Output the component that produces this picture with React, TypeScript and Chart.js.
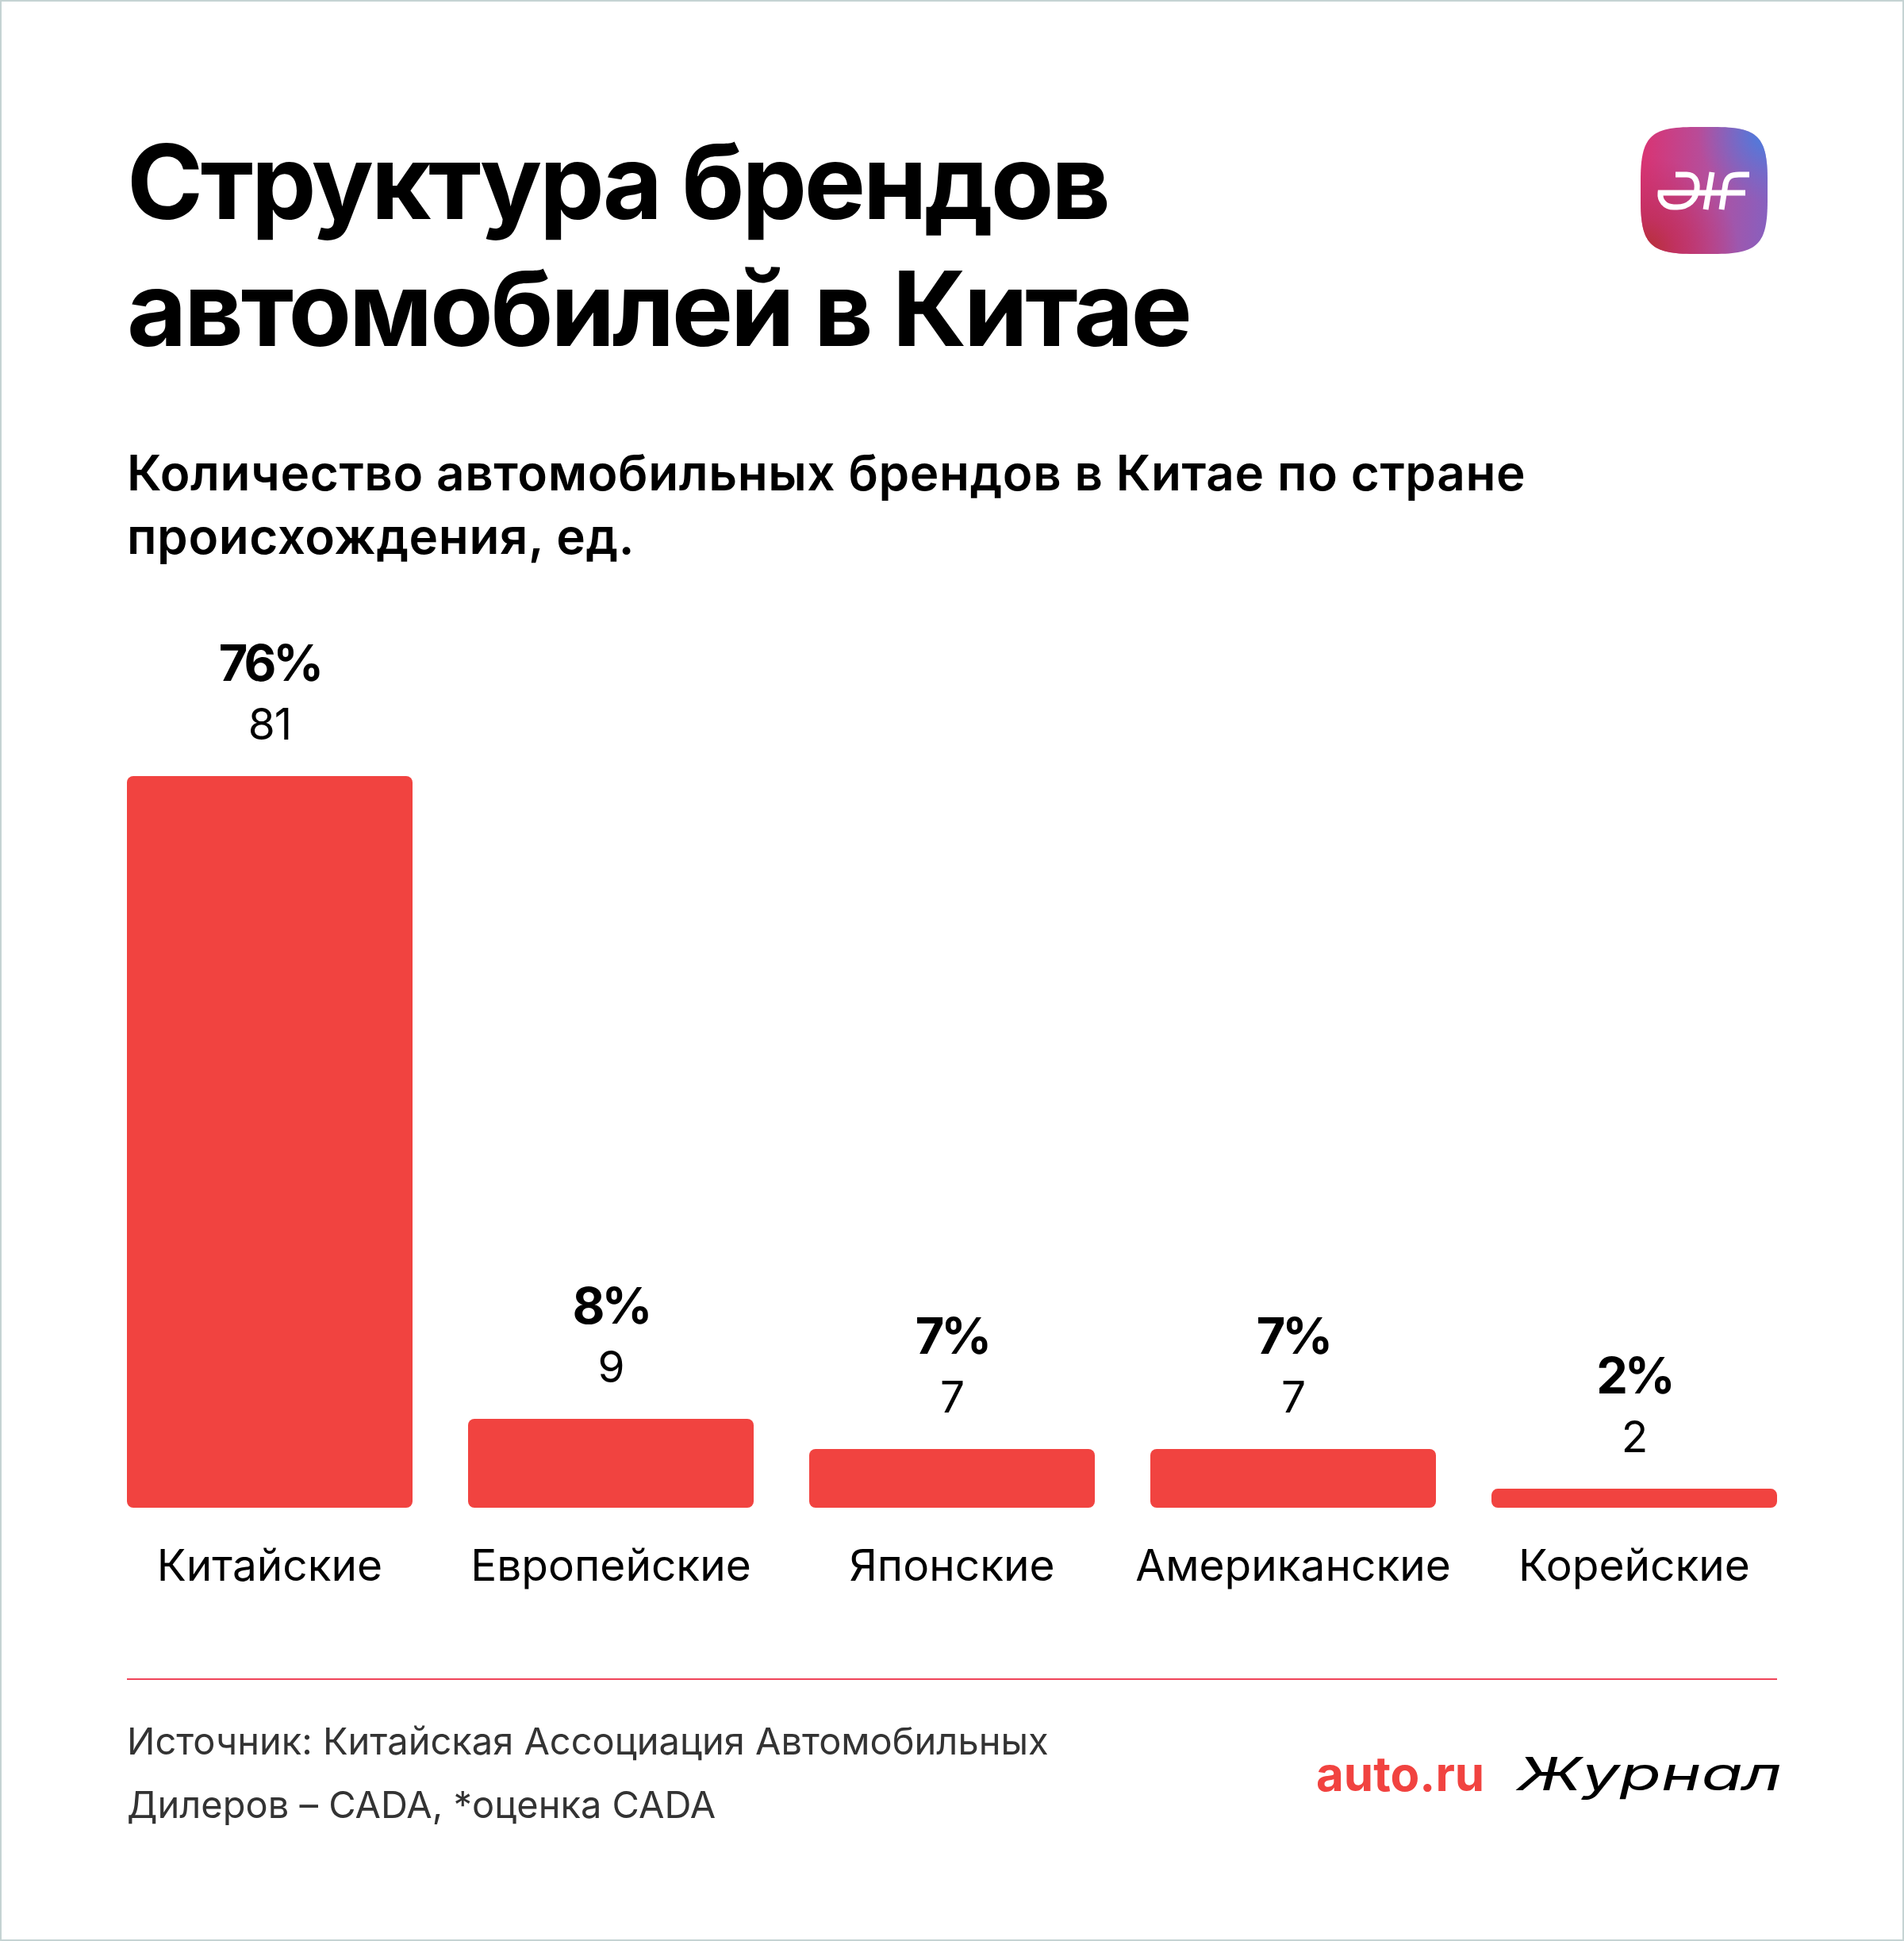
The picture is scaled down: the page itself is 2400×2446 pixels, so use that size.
import React, { useEffect, useRef } from "react";
import Chart from "chart.js/auto";
import type { Plugin } from "chart.js";

const categories = ["Китайские", "Европейские", "Японские", "Американские", "Корейские"];
// bar heights as drawn in the source graphic, which are not quite to scale with the counts
const barHeights = [81, 9.84, 6.5, 6.5, 2.1];
const counts = ["81", "9", "7", "7", "2"];
const shares = ["76%", "8%", "7%", "7%", "2%"];

const FONT = "Inter, 'Noto Sans', sans-serif";
const RED = "#f14340";
const TILE = "M0 68C0 12 12 0 68 0h24c56 0 68 12 68 68v24c0 56-12 68-68 68H68C12 160 0 148 0 92Z";

const stackedLabels: Plugin<"bar"> = {
    id: "stackedLabels",
    afterDatasetsDraw(chart) {
        const ctx = chart.ctx as CanvasRenderingContext2D & { letterSpacing: string };
        const meta = chart.getDatasetMeta(0);
        ctx.save();
        ctx.fillStyle = "#000";
        ctx.textAlign = "center";
        ctx.textBaseline = "alphabetic";
        meta.data.forEach((bar, i) => {
            ctx.font = `700 63px ${FONT}`;
            ctx.letterSpacing = "-4px";
            ctx.fillText(shares[i], bar.x, bar.y - 120);
            ctx.font = `400 55px ${FONT}`;
            ctx.letterSpacing = "-1px";
            ctx.fillText(counts[i], bar.x, bar.y - 46);
        });
        ctx.restore();
    },
};

const textBase: React.CSSProperties = {
    position: "absolute",
    left: 160,
    margin: 0,
    color: "#000",
    fontFamily: FONT,
    whiteSpace: "nowrap",
};

const Logo = () => (
    <svg style={{ position: "absolute", left: 2068, top: 160 }} width={160} height={160} viewBox="0 0 160 160">
        <defs>
            <linearGradient id="base" x1="0" y1="0" x2="1" y2="0">
                <stop offset="0" stopColor="#da3372" />
                <stop offset="0.55" stopColor="#b2509f" />
                <stop offset="1" stopColor="#8760bf" />
            </linearGradient>
            <radialGradient id="corner" cx="0.02" cy="0.98" r="0.75">
                <stop offset="0" stopColor="#b4302f" />
                <stop offset="0.35" stopColor="#bf2f5a" stopOpacity="0.85" />
                <stop offset="1" stopColor="#bf2f6a" stopOpacity="0" />
            </radialGradient>
            <radialGradient id="blue" cx="1" cy="0.05" r="0.55">
                <stop offset="0" stopColor="#4280e2" />
                <stop offset="1" stopColor="#6a70d0" stopOpacity="0" />
            </radialGradient>
        </defs>
        <path d={TILE} fill="url(#base)" />
        <path d={TILE} fill="url(#corner)" />
        <path d={TILE} fill="url(#blue)" />
        <g fill="none" stroke="#fff" strokeWidth={7}>
            <path d="M44 60H58C68 60 72 68 71 78C70 92 60 101 46 101H42C30 101 24 92 25 83H132" />
            <path d="M82 104L90 57" />
            <path d="M102 104L107 72C109 62 115 60 124 60H137" />
        </g>
    </svg>
);

export default function App() {
    const canvasRef = useRef<HTMLCanvasElement | null>(null);

    useEffect(() => {
        const canvas = canvasRef.current;
        if (!canvas) return;

        const chart = new Chart(canvas, {
            type: "bar",
            data: {
                labels: categories,
                datasets: [
                    {
                        data: barHeights,
                        backgroundColor: RED,
                        borderRadius: 8,
                        borderSkipped: false,
                        barPercentage: 360 / 430,
                        categoryPercentage: 1,
                    },
                ],
            },
            options: {
                responsive: false,
                animation: false,
                devicePixelRatio: 1,
                layout: { padding: { left: 125, right: 125, top: 978, bottom: 0 } },
                plugins: { legend: { display: false }, tooltip: { enabled: false } },
                scales: {
                    x: {
                        afterFit: (scale) => {
                            scale.height = 546;
                        },
                        grid: { display: false },
                        border: { display: false },
                        ticks: {
                            color: "#000",
                            padding: 34,
                            maxRotation: 0,
                            autoSkip: false,
                            font: { family: FONT, size: 55, weight: 400 },
                        },
                    },
                    y: { display: false, min: 0, max: 81 },
                },
            },
            plugins: [stackedLabels],
        });

        return () => {
            chart.destroy();
        };
    }, []);

    return (
        <div style={{ position: "absolute", left: 0, top: 0, width: 2400, height: 2446, background: "#fff", overflow: "hidden", boxSizing: "border-box", border: "2px solid #c5d3d3" }}>
            <div style={{ position: "absolute", left: -2, top: -2, width: 2400, height: 2446 }}>
                <canvas ref={canvasRef} width={2400} height={2446} style={{ position: "absolute", left: 0, top: 0 }} />
                <h1 style={{ ...textBase, top: 149, fontSize: 130, lineHeight: "160px", fontWeight: 700, letterSpacing: "-3.4px" }}>
                    Структура брендов
                    <br />
                    автомобилей в Китае
                </h1>
                <p style={{ ...textBase, top: 556, fontSize: 62, lineHeight: "80px", fontWeight: 600, letterSpacing: "0.6px" }}>
                    Количество автомобильных брендов в Китае по стране
                    <br />
                    происхождения, ед.
                </p>
                <div style={{ position: "absolute", left: 160, top: 2115, width: 2080, height: 2, background: "#f0445a" }} />
                <p style={{ ...textBase, top: 2154, fontSize: 47, lineHeight: "80px", color: "#333" }}>
                    Источник: Китайская Ассоциация Автомобильных
                    <br />
                    Дилеров – CADA, *оценка CADA
                </p>
                <span style={{ ...textBase, left: 1659, top: 2200, fontSize: 60, lineHeight: "70px", fontWeight: 700, color: RED }}>auto.ru</span>
                <span style={{ ...textBase, left: 1912, top: 2200, fontSize: 58, lineHeight: "70px", fontStyle: "italic", transform: "scaleX(1.47)", transformOrigin: "left center" }}>Журнал</span>
                <Logo />
            </div>
        </div>
    );
}
